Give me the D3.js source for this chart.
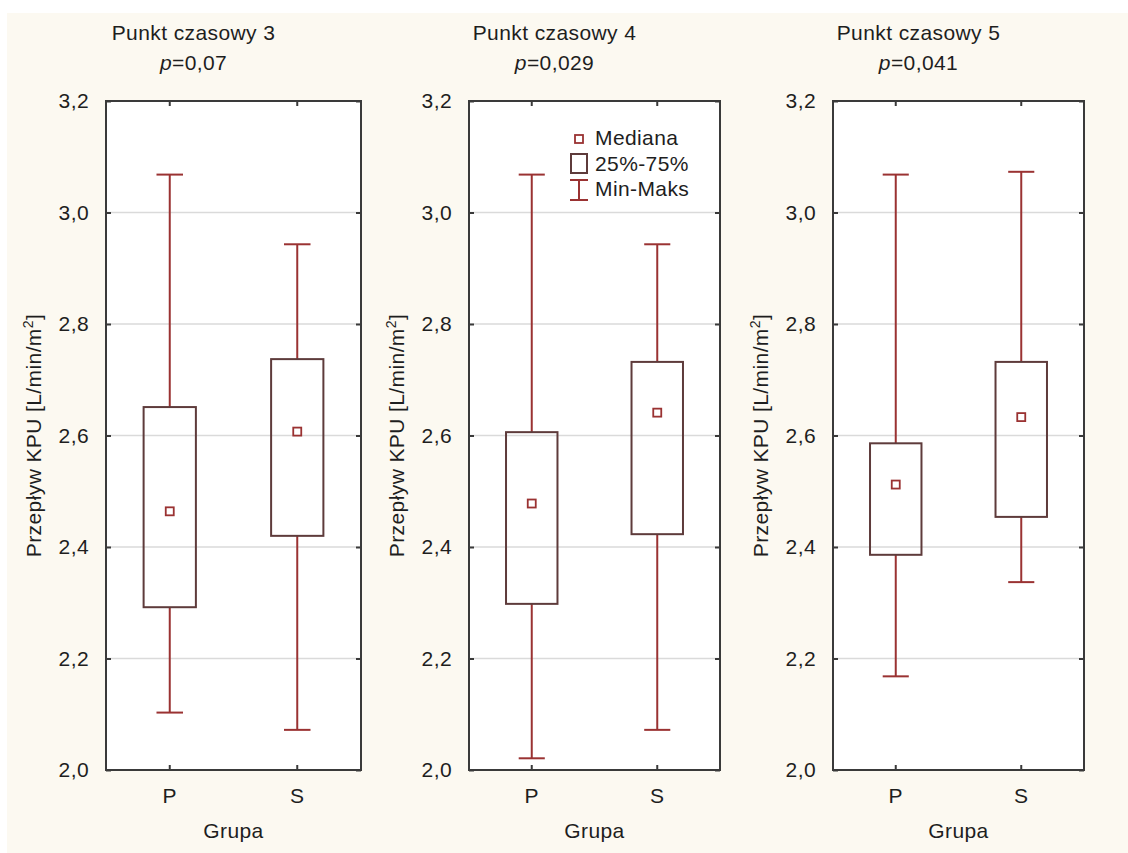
<!DOCTYPE html>
<html>
<head>
<meta charset="utf-8">
<script src="https://cdn.jsdelivr.net/npm/d3@7/dist/d3.min.js"></script>
<style>
  html, body { margin: 0; padding: 0; background: #ffffff; }
  svg { display: block; }
  text { font-family: Arial, "Liberation Sans", sans-serif; fill: #1e1e1e; letter-spacing: 0.4px; }
</style>
</head>
<body>
<svg id="chart" width="1128" height="853"></svg>
<script>
// Box plots of KPU flow per group at three time points
const panelTitles = ["Punkt czasowy 3", "Punkt czasowy 4", "Punkt czasowy 5"];
const pValues = ["0,07", "0,029", "0,041"];
const groups = ["P", "S"];
const minVals = [[2.103, 2.072], [2.021, 2.072], [2.168, 2.337]];
const q1Vals = [[2.292, 2.420], [2.298, 2.423], [2.386, 2.454]];
const medianVals = [[2.464, 2.607], [2.478, 2.641], [2.512, 2.633]];
const q3Vals = [[2.651, 2.737], [2.606, 2.732], [2.586, 2.732]];
const maxVals = [[3.068, 2.943], [3.068, 2.943], [3.068, 3.073]];
const yTicks = [2.0, 2.2, 2.4, 2.6, 2.8, 3.0, 3.2];
const yDomain = [2.0, 3.2];
const xTitle = "Grupa";
const yTitle = "Przepływ KPU [L/min/m";
const legendItems = ["Mediana", "25%-75%", "Min-Maks"];

const svg = d3.select("#chart");

const whiskerColor = "#9a3232";
const boxColor = "#5e3b3b";
const frameColor = "#3a3a3a";
const gridColor = "#dadada";
const fontSize = "21px";
const fontFamily = "Arial, 'Liberation Sans', sans-serif";

// page background
svg.append("rect")
  .attr("x", 7).attr("y", 13)
  .attr("width", 1128 - 7).attr("height", 853 - 13)
  .attr("fill", "#fcf9f1");

const plotTop = 101, plotBottom = 770;
const frames = [[106, 361], [469, 720], [833, 1084]];

const y = d3.scaleLinear().domain(yDomain).range([plotBottom, plotTop]);
const fmt = v => d3.format(".1f")(v).replace(".", ",");

panelTitles.forEach((title, i) => {
  const [x0, x1] = frames[i];
  const x = d3.scaleBand().domain(groups).range([x0, x1]).padding(0);
  const w = x1 - x0;
  const boxW = w * 0.205;
  const capW = w * 0.104;
  const g = svg.append("g");

  // plot area
  g.append("rect")
    .attr("x", x0).attr("y", plotTop)
    .attr("width", w).attr("height", plotBottom - plotTop)
    .attr("fill", "#ffffff");

  // horizontal gridlines
  g.selectAll(".grid").data(yTicks.slice(1, -1)).enter().append("line")
    .attr("x1", x0).attr("x2", x1)
    .attr("y1", d => y(d)).attr("y2", d => y(d))
    .attr("stroke", gridColor).attr("stroke-width", 1.5);

  // left axis with labels; ticks point inward
  const yAxis = d3.axisLeft(y).tickValues(yTicks).tickFormat(fmt).tickSize(-5).tickPadding(17);
  const ya = g.append("g").attr("transform", `translate(${x0},0)`).call(yAxis);
  ya.select(".domain").remove();
  ya.selectAll("line").attr("stroke", frameColor).attr("stroke-width", 2);
  ya.selectAll("text").style("font-size", fontSize).attr("fill", "#1e1e1e")
    .style("font-family", fontFamily);

  // right-side inward ticks
  const yr = g.append("g").attr("transform", `translate(${x1},0)`)
    .call(d3.axisRight(y).tickValues(yTicks).tickSize(-5).tickFormat(""));
  yr.select(".domain").remove();
  yr.selectAll("line").attr("stroke", frameColor).attr("stroke-width", 2);

  // bottom axis with group labels
  const xa = g.append("g").attr("transform", `translate(0,${plotBottom})`)
    .call(d3.axisBottom(x).tickSize(-5).tickPadding(18));
  xa.select(".domain").remove();
  xa.selectAll("line").attr("stroke", frameColor).attr("stroke-width", 2);
  xa.selectAll("text").style("font-size", fontSize).attr("fill", "#1e1e1e")
    .style("font-family", fontFamily);

  // top inward ticks
  const xt = g.append("g").attr("transform", `translate(0,${plotTop})`)
    .call(d3.axisTop(x).tickSize(-5).tickFormat(""));
  xt.select(".domain").remove();
  xt.selectAll("line").attr("stroke", frameColor).attr("stroke-width", 2);

  // boxes
  groups.forEach((grp, j) => {
    const cx = x(grp) + x.bandwidth() / 2;
    // whiskers
    g.append("line")
      .attr("x1", cx).attr("x2", cx)
      .attr("y1", y(maxVals[i][j])).attr("y2", y(q3Vals[i][j]))
      .attr("stroke", whiskerColor).attr("stroke-width", 2);
    g.append("line")
      .attr("x1", cx).attr("x2", cx)
      .attr("y1", y(q1Vals[i][j])).attr("y2", y(minVals[i][j]))
      .attr("stroke", whiskerColor).attr("stroke-width", 2);
    [maxVals[i][j], minVals[i][j]].forEach(v => {
      g.append("line")
        .attr("x1", cx - capW / 2).attr("x2", cx + capW / 2)
        .attr("y1", y(v)).attr("y2", y(v))
        .attr("stroke", whiskerColor).attr("stroke-width", 2);
    });
    // interquartile box
    g.append("rect")
      .attr("x", cx - boxW / 2).attr("y", y(q3Vals[i][j]))
      .attr("width", boxW).attr("height", y(q1Vals[i][j]) - y(q3Vals[i][j]))
      .attr("fill", "none").attr("stroke", boxColor).attr("stroke-width", 2);
    // median marker
    g.append("rect")
      .attr("x", cx - 4).attr("y", y(medianVals[i][j]) - 4)
      .attr("width", 8).attr("height", 8)
      .attr("fill", "#ffffff").attr("stroke", whiskerColor).attr("stroke-width", 1.8);
  });

  // frame
  g.append("rect")
    .attr("x", x0).attr("y", plotTop)
    .attr("width", w).attr("height", plotBottom - plotTop)
    .attr("fill", "none").attr("stroke", frameColor).attr("stroke-width", 2);

  // titles
  const tx = (x0 + x1) / 2 - 40;
  g.append("text").attr("x", tx).attr("y", 40)
    .attr("text-anchor", "middle").style("font-size", fontSize).text(title);
  const pt = g.append("text").attr("x", tx).attr("y", 70)
    .attr("text-anchor", "middle").style("font-size", fontSize);
  pt.append("tspan").style("font-style", "italic").text("p");
  pt.append("tspan").text("=" + pValues[i]);

  // axis titles
  g.append("text").attr("x", (x0 + x1) / 2).attr("y", 838)
    .attr("text-anchor", "middle").style("font-size", fontSize).text(xTitle);
  const yt = g.append("text")
    .attr("transform", `translate(${x0 - 65},${(plotTop + plotBottom) / 2}) rotate(-90)`)
    .attr("text-anchor", "middle").style("font-size", fontSize);
  yt.append("tspan").text(yTitle);
  yt.append("tspan").attr("dy", -8).style("font-size", "14px").text("2");
  yt.append("tspan").attr("dy", 8).text("]");
});

// legend inside the middle panel
const lg = svg.append("g");
const lx = 579;
lg.append("rect").attr("x", lx - 4).attr("y", 135).attr("width", 8).attr("height", 8)
  .attr("fill", "#ffffff").attr("stroke", whiskerColor).attr("stroke-width", 1.8);
lg.append("rect").attr("x", lx - 8).attr("y", 154).attr("width", 16).attr("height", 19)
  .attr("fill", "none").attr("stroke", boxColor).attr("stroke-width", 2);
lg.append("line").attr("x1", lx).attr("x2", lx).attr("y1", 180).attr("y2", 200)
  .attr("stroke", whiskerColor).attr("stroke-width", 2);
[180, 200].forEach(v => lg.append("line").attr("x1", lx - 9).attr("x2", lx + 9)
  .attr("y1", v).attr("y2", v).attr("stroke", whiskerColor).attr("stroke-width", 2));
lg.selectAll(".lt").data(legendItems).enter().append("text")
  .attr("x", 595).attr("y", (d, k) => 145 + k * 25.5)
  .style("font-size", fontSize).text(d => d);
</script>
</body>
</html>
